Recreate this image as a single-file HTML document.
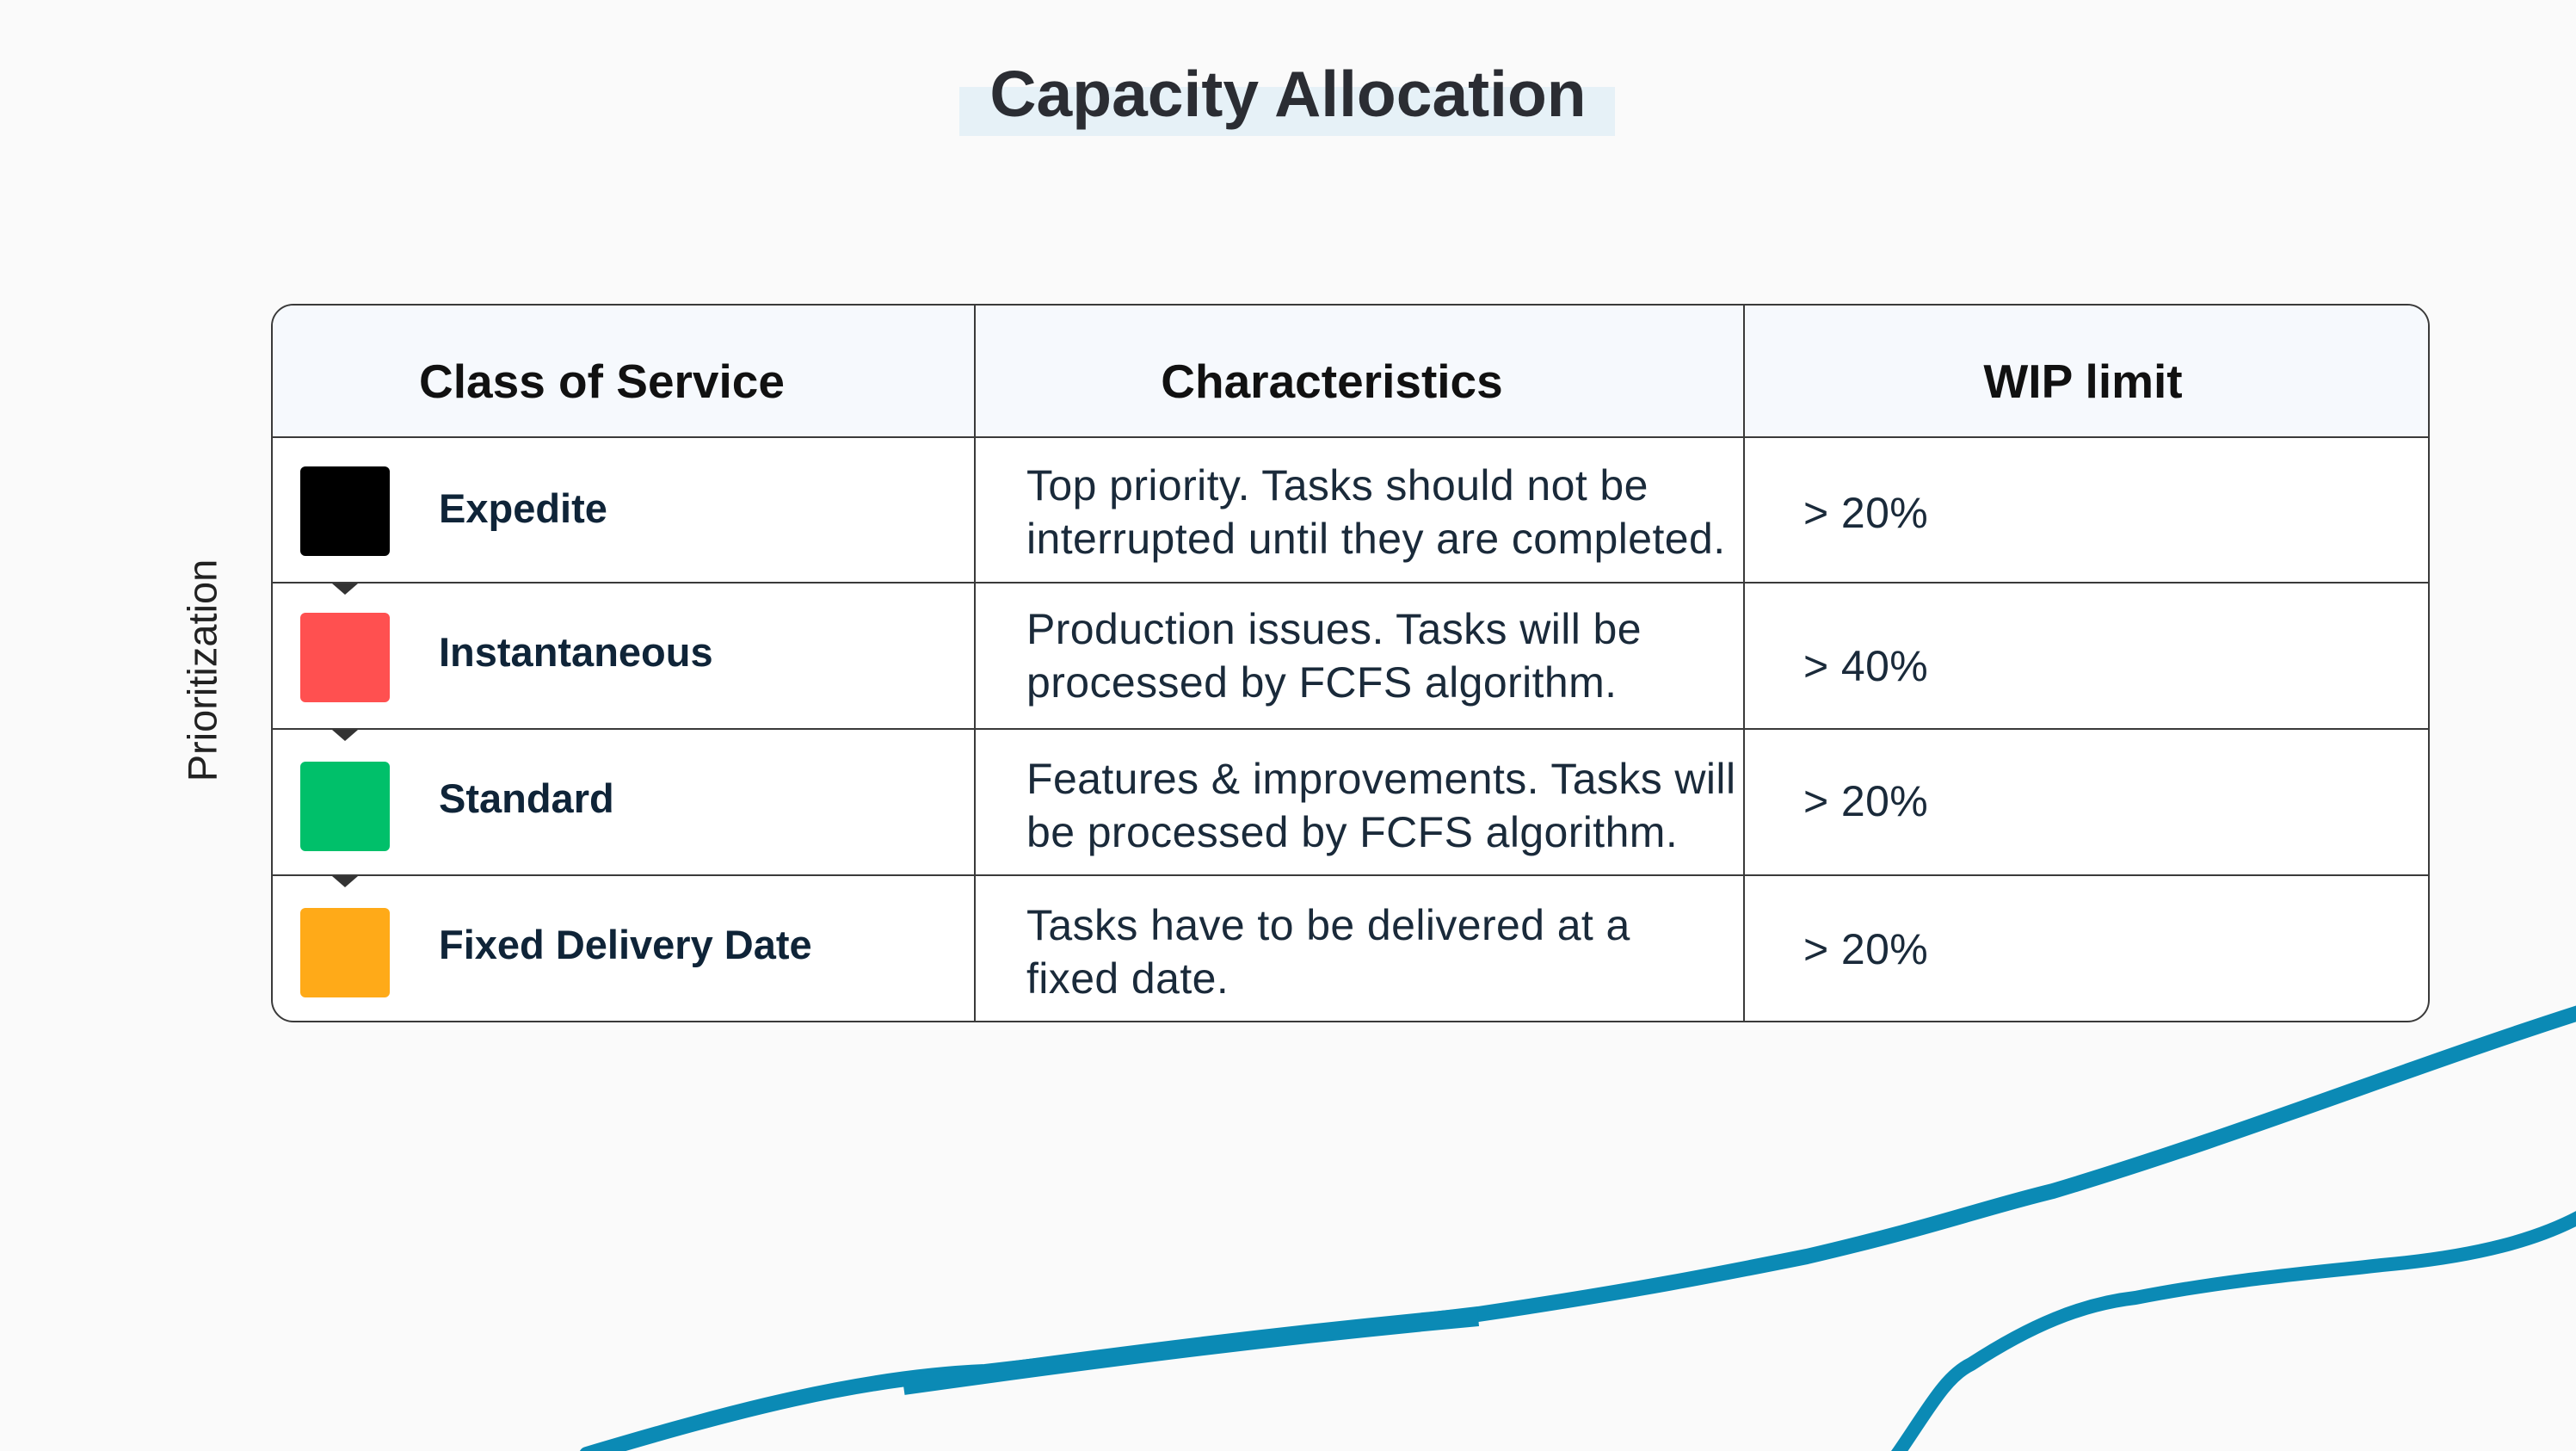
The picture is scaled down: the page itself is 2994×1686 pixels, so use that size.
<!DOCTYPE html>
<html><head><meta charset="utf-8"><style>
body{margin:0;width:2994px;height:1686px;background:#fafafa;position:relative;overflow:hidden;font-family:"Liberation Sans",sans-serif;}
.abs{position:absolute;}
.hl{left:1115px;top:101px;width:762px;height:57px;background:#e6f1f7;}
.title{left:0;width:2994px;top:66px;text-align:center;font-size:75px;font-weight:bold;color:#2b2d33;}
.tbl{left:315px;top:353px;width:2505px;height:831px;border:2px solid #3a3a3a;border-radius:26px;background:#fff;overflow:hidden;}
.hdr{left:0;top:0;width:2505px;height:152px;background:#f6f9fd;border-bottom:2px solid #3a3a3a;}
.hcell{top:12px;height:152px;line-height:152px;text-align:center;font-size:55px;font-weight:bold;color:#111;}
.vl{top:0;width:2px;height:831px;background:#3a3a3a;}
.hlrow{left:0;width:2505px;height:2px;background:#3a3a3a;}
.sq{width:104px;height:104px;border-radius:6px;}
.lab{font-size:47px;font-weight:bold;color:#0f2438;}
.txt{font-size:50px;color:#1a2a3a;line-height:62px;letter-spacing:0.4px;}
.tri{width:0;height:0;border-left:15px solid transparent;border-right:15px solid transparent;border-top:13px solid #333;}
</style></head><body>
<div class="abs hl"></div>
<div class="abs title">Capacity Allocation</div>
<div class="abs" style="left:235px;top:779px;transform:translate(-50%,-50%) rotate(-90deg);font-size:47px;color:#222;white-space:nowrap;">Prioritization</div>
<div class="abs tbl">
 <div class="abs hdr"></div>
 <div class="abs hcell" style="left:0;width:765px">Class of Service</div>
 <div class="abs hcell" style="left:817px;width:828px">Characteristics</div>
 <div class="abs hcell" style="left:1711px;width:786px">WIP limit</div>
 <div class="abs vl" style="left:815px"></div>
 <div class="abs vl" style="left:1709px"></div>
 <div class="abs hlrow" style="top:321px"></div>
 <div class="abs hlrow" style="top:491px"></div>
 <div class="abs hlrow" style="top:661px"></div>

 <div class="abs sq" style="left:32px;top:187px;background:#000"></div>
 <div class="abs lab" style="left:193px;top:208px">Expedite</div>
 <div class="abs txt" style="left:876px;top:178px">Top priority. Tasks should not be<br>interrupted until they are completed.</div>
 <div class="abs txt" style="left:1779px;top:210px">&gt; 20%</div>
 <div class="abs tri" style="left:69px;top:323px"></div>

 <div class="abs sq" style="left:32px;top:357px;background:#ff5050"></div>
 <div class="abs lab" style="left:193px;top:375px">Instantaneous</div>
 <div class="abs txt" style="left:876px;top:345px">Production issues. Tasks will be<br>processed by FCFS algorithm.</div>
 <div class="abs txt" style="left:1779px;top:388px">&gt; 40%</div>
 <div class="abs tri" style="left:69px;top:493px"></div>

 <div class="abs sq" style="left:32px;top:530px;background:#00c06a"></div>
 <div class="abs lab" style="left:193px;top:545px">Standard</div>
 <div class="abs txt" style="left:876px;top:519px">Features &amp; improvements. Tasks will<br>be processed by FCFS algorithm.</div>
 <div class="abs txt" style="left:1779px;top:545px">&gt; 20%</div>
 <div class="abs tri" style="left:69px;top:663px"></div>

 <div class="abs sq" style="left:32px;top:700px;background:#ffaa18"></div>
 <div class="abs lab" style="left:193px;top:715px">Fixed Delivery Date</div>
 <div class="abs txt" style="left:876px;top:689px">Tasks have to be delivered at a<br>fixed date.</div>
 <div class="abs txt" style="left:1779px;top:717px">&gt; 20%</div>
</div>
<svg class="abs" style="left:0;top:0" width="2994" height="1686">
 <path d="M682,1690 C850,1640 1000,1600 1145,1594 C1400,1565 1600,1540 1718,1527 C1900,1500 2000,1480 2100,1460 C2250,1425 2300,1405 2386,1384 C2600,1320 2800,1240 3000,1176" fill="none" stroke="#0b8ab5" stroke-width="18" stroke-linecap="round"/>
 <path d="M1050,1610 C1300,1575 1500,1550 1718,1530" fill="none" stroke="#0b8ab5" stroke-width="22"/>
 <path d="M2205,1690 C2240,1640 2260,1600 2291,1585 C2360,1540 2420,1515 2482,1508 C2600,1485 2700,1478 2768,1470 C2880,1460 2950,1440 3000,1413" fill="none" stroke="#0b8ab5" stroke-width="16" stroke-linecap="round"/>
</svg>
</body></html>
